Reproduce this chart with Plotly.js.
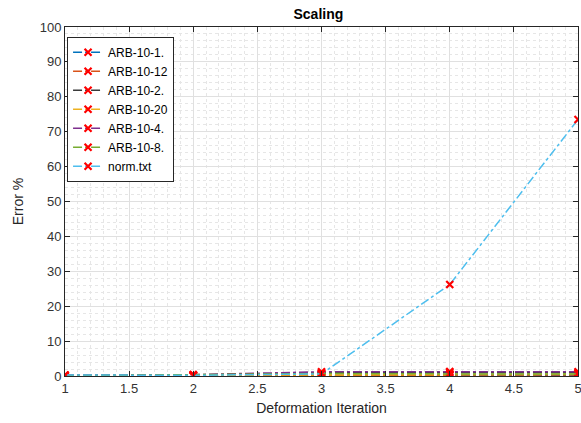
<!DOCTYPE html>
<html>
<head>
<meta charset="utf-8">
<script src="https://cdn.plot.ly/plotly-3.0.1.min.js"></script>
<style>
  html, body { margin: 0; padding: 0; background: #fff; }
  #chart { width: 581px; height: 423px; }
</style>
</head>
<body>
<div id="chart"></div>
<script>
// Deformation iterations on the x axis
const iterations = [1, 2, 3, 4, 5];

// Error (%) per data set
const seriesNames = ["ARB-10-1.", "ARB-10-12", "ARB-10-2.", "ARB-10-20", "ARB-10-4.", "ARB-10-8.", "norm.txt"];
const arb10_1  = [0.1, 0.1, 0.2, 0.2, 0.2];
const arb10_12 = [0.1, 0.1, 0.3, 0.3, 0.3];
const arb10_2  = [0.2, 0.3, 0.9, 1.0, 0.9];
const arb10_20 = [0.1, 0.2, 0.4, 0.5, 0.5];
const arb10_4  = [0.2, 0.4, 1.2, 1.3, 1.2];
const arb10_8  = [0.1, 0.3, 0.7, 0.6, 0.6];
const normTxt  = [0.3, 0.2, 0.6, 26.2, 73.5];

const seriesValues = [arb10_1, arb10_12, arb10_2, arb10_20, arb10_4, arb10_8, normTxt];
const seriesColors = ["#0072BD", "#D95319", "#3a3a3a", "#EDB120", "#7E2F8E", "#77AC30", "#4DBEEE"];

const xTicks = [1, 1.5, 2, 2.5, 3, 3.5, 4, 4.5, 5];
const yTicks = [0, 10, 20, 30, 40, 50, 60, 70, 80, 90, 100];

const traces = seriesNames.map((name, i) => ({
  type: "scatter",
  mode: "lines+markers",
  name: name,
  x: iterations,
  y: seriesValues[i],
  line: { color: seriesColors[i], width: 1.5, dash: "dashdot" },
  marker: {
    symbol: "x-thin",
    size: 7,
    color: "#ff0000",
    line: { color: "#ff0000", width: 2.2 }
  }
}));

const font = "Liberation Sans, Arial, Helvetica, sans-serif";

const layout = {
  width: 581,
  height: 423,
  margin: { l: 65, r: 3, t: 27, b: 47 },
  paper_bgcolor: "#ffffff",
  plot_bgcolor: "#ffffff",
  font: { family: font, color: "#262626", size: 13 },
  title: {
    text: "<b>Scaling</b>",
    font: { family: font, size: 14, color: "#000" },
    x: 0.548, xanchor: "center",
    y: 0.967, yanchor: "middle"
  },
  showlegend: true,
  legend: {
    x: 0.004, y: 0.972, xanchor: "left", yanchor: "top",
    bgcolor: "#ffffff",
    bordercolor: "#262626",
    borderwidth: 1,
    font: { family: font, size: 12, color: "#000" },
    tracegroupgap: 0,
    itemwidth: 30
  },
  xaxis: {
    range: [1, 5],
    tickvals: xTicks,
    ticktext: xTicks.map(String),
    ticklabeloverflow: "allow",
    ticks: "inside",
    ticklen: 5,
    tickcolor: "#262626",
    showline: true,
    linecolor: "#262626",
    linewidth: 1,
    mirror: "ticks",
    showgrid: true,
    gridcolor: "#e0e0e0",
    gridwidth: 1,
    zeroline: false,
    tickfont: { family: font, size: 13, color: "#333" },
    title: { text: "Deformation Iteration", font: { family: font, size: 14, color: "#262626" }, standoff: 8 },
    minor: { dtick: 0.1, showgrid: true, gridcolor: "#e6e6e6", griddash: "dot", gridwidth: 1, ticks: "" }
  },
  yaxis: {
    range: [0, 100],
    tickvals: yTicks,
    ticktext: yTicks.map(String),
    ticks: "inside",
    ticklen: 5,
    tickcolor: "#262626",
    showline: true,
    linecolor: "#262626",
    linewidth: 1,
    mirror: "ticks",
    showgrid: true,
    gridcolor: "#e0e0e0",
    gridwidth: 1,
    zeroline: false,
    tickfont: { family: font, size: 13, color: "#333" },
    title: { text: "Error %", font: { family: font, size: 14, color: "#262626" }, standoff: 12 },
    minor: { dtick: 2, showgrid: true, gridcolor: "#e6e6e6", griddash: "dot", gridwidth: 1, ticks: "" }
  }
};

Plotly.newPlot("chart", traces, layout, { displayModeBar: false, staticPlot: true });
</script>
</body>
</html>
